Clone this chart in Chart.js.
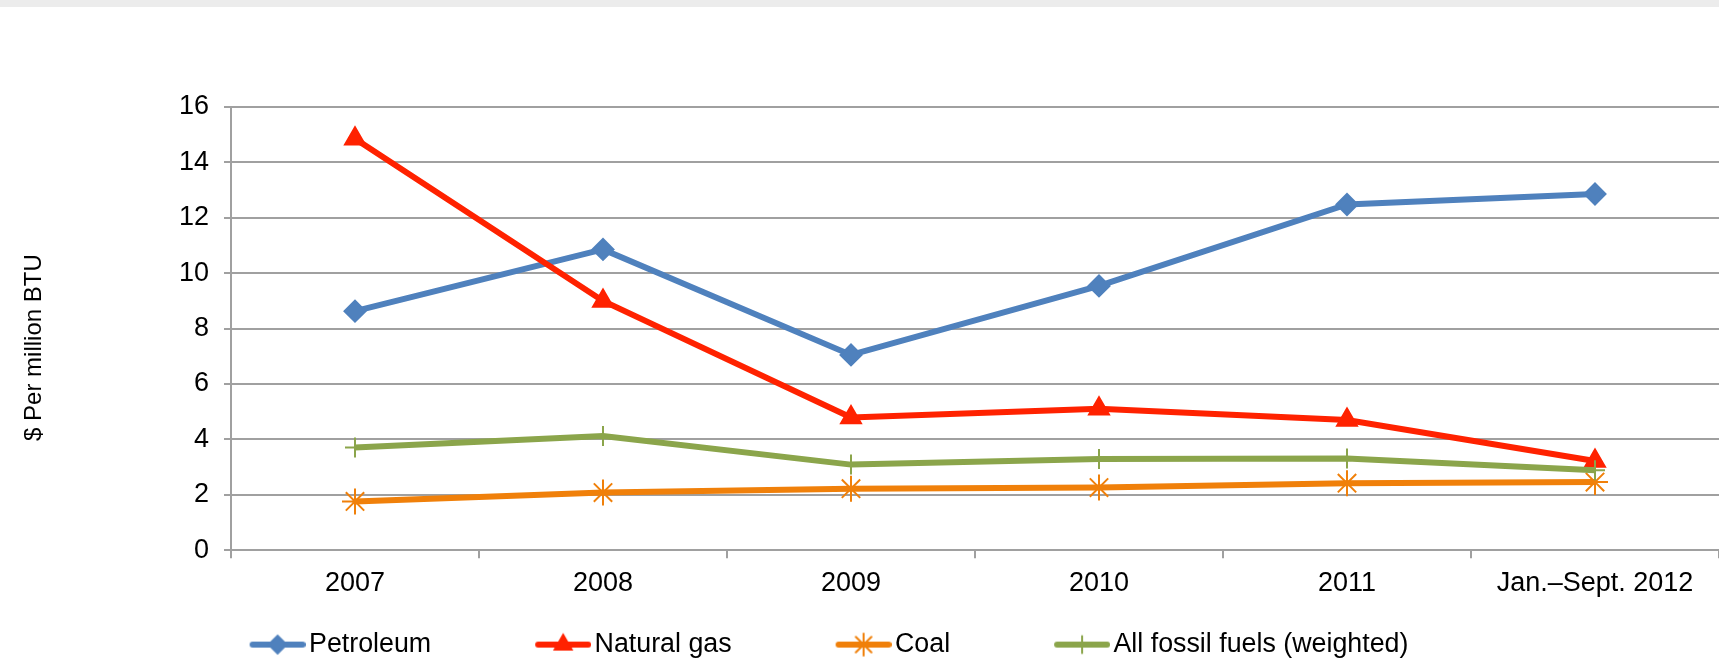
<!DOCTYPE html>
<html>
<head>
  <meta charset="UTF-8">
  <title>Fossil fuel prices</title>
  <script src="https://cdn.jsdelivr.net/npm/chart.js"></script>
  <style>
    body {
      margin: 0;
      background: #fff;
    }

    #band {
      position: absolute;
      top: 0;
      left: 0;
      width: 1719px;
      height: 7px;
      background: #ececec;
    }
  </style>
</head>
<body>
  <canvas id="chart" width="1719" height="663"></canvas>
  <div id="band"></div>

  <script>
    const years = ['2007', '2008', '2009', '2010', '2011', 'Jan.–Sept. 2012'];
    const petroleum = [8.63, 10.86, 7.05, 9.54, 12.48, 12.86];
    const naturalGas = [14.85, 9.0, 4.79, 5.11, 4.7, 3.22];
    const coal = [1.76, 2.08, 2.22, 2.26, 2.42, 2.46];
    const allFossil = [3.71, 4.12, 3.09, 3.29, 3.31, 2.89];
    const yMin = 0, yMax = 16, yStep = 2;

    const FONT = "'Liberation Sans', Arial, sans-serif";
    const GRID = '#a0a0a0';
    const SWATCH = 145;  // legend box width

    // legend swatch: short line with the marker on it, right-aligned in a wide box
    function legendIcon(color, style, radius) {
      const c = document.createElement('canvas');
      c.width = SWATCH + 20;
      c.height = 30;
      const ctx = c.getContext('2d');
      ctx.strokeStyle = color;
      ctx.fillStyle = color;
      ctx.lineWidth = 6;
      ctx.lineCap = 'round';
      ctx.beginPath();
      ctx.moveTo(c.width - 53, 15);
      ctx.lineTo(c.width - 3, 15);
      ctx.stroke();
      ctx.lineWidth = 2;
      Chart.helpers.drawPoint(ctx, { pointStyle: style, radius: radius, borderWidth: 2 }, c.width - 28, 15);
      return c;
    }

    function series(label, data, color, style, radius, order) {
      return {
        label: label,
        data: data,
        borderColor: color,
        backgroundColor: color,
        borderWidth: 6,
        tension: 0,
        pointStyle: style,
        pointRadius: radius,
        pointHoverRadius: radius,
        pointBackgroundColor: color,
        pointBorderColor: color,
        pointBorderWidth: 2,
        order: order,
        icon: legendIcon(color, style, radius * 0.85)
      };
    }

    const datasets = [
      series('Petroleum', petroleum, '#4f81bd', 'rectRot', 10.5, 4),
      series('Natural gas', naturalGas, '#ff2200', 'triangle', 11.5, 3),
      series('Coal', coal, '#f0800a', 'star', 13, 2),
      series('All fossil fuels (weighted)', allFossil, '#8ba54b', 'cross', 10, 1)
    ];

    // move the legend row and the y title to where the original has them
    const nudge = {
      id: 'nudge',
      afterLayout(chart) {
        const lg = chart.legend;
        lg.left -= 80;
        lg.right -= 80;
        lg.top += 5;
        lg.bottom += 5;

        const y = chart.scales.y;
        if (!y._nudged) {
          const drawTitle = y.drawTitle;
          y.drawTitle = function () {
            this.ctx.save();
            this.ctx.translate(0, 19);
            drawTitle.call(this);
            this.ctx.restore();
          };
          y._nudged = true;
        }
      }
    };

    new Chart(document.getElementById('chart'), {
      type: 'line',
      data: { labels: years, datasets: datasets },
      plugins: [nudge],
      options: {
        responsive: false,
        devicePixelRatio: 1,
        animation: false,
        layout: { autoPadding: false, padding: { top: 107, left: 0, right: 0, bottom: 0 } },
        plugins: {
          tooltip: { enabled: false },
          legend: {
            position: 'bottom',
            labels: {
              usePointStyle: true,
              pointStyleWidth: SWATCH,
              padding: 5,
              color: '#000',
              font: { family: FONT, size: 26.8 },
              generateLabels: chart => chart.data.datasets.map((ds, i) => ({
                text: ds.label,
                pointStyle: ds.icon,
                fillStyle: 'transparent',
                strokeStyle: 'transparent',
                lineWidth: 0,
                fontColor: '#000',
                hidden: false,
                datasetIndex: i
              }))
            }
          }
        },
        scales: {
          x: {
            offset: true,
            grid: {
              offset: true,
              drawOnChartArea: false,
              drawTicks: true,
              tickLength: 8,
              color: GRID,
              lineWidth: 2
            },
            border: { color: GRID, width: 2 },
            ticks: {
              color: '#000',
              font: { family: FONT, size: 27 },
              padding: 9,
              maxRotation: 0,
              autoSkip: false
            },
            afterFit: scale => { scale.height = 71; }
          },
          y: {
            min: yMin,
            max: yMax,
            ticks: {
              stepSize: yStep,
              color: '#000',
              font: { family: FONT, size: 27 },
              padding: 15
            },
            grid: { color: GRID, lineWidth: 2, tickLength: 7 },
            border: { color: GRID, width: 2 },
            title: {
              display: true,
              text: '$ Per million BTU',
              color: '#000',
              font: { family: FONT, size: 24 },
              padding: { top: 20, bottom: 0 }
            },
            afterFit: scale => { scale.width = 231; }
          }
        }
      }
    });
  </script>
</body>
</html>
